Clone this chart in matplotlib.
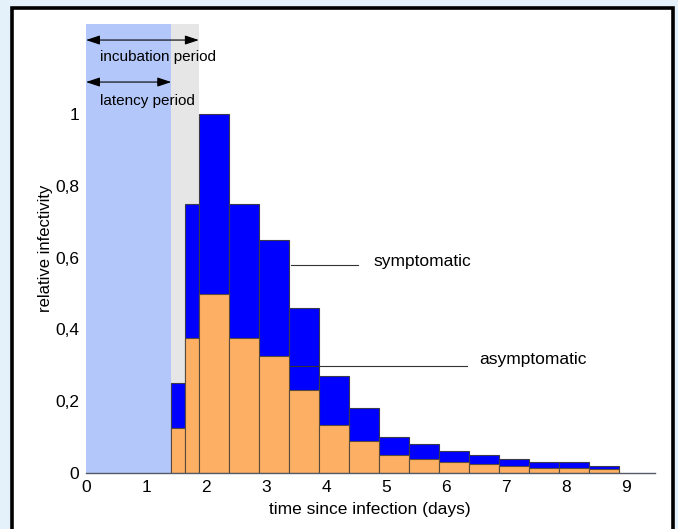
import matplotlib
matplotlib.use("Agg")
import matplotlib.pyplot as plt
from matplotlib.patches import Rectangle

plt.rcParams['font.family'] = ['Liberation Sans', 'DejaVu Sans']

# ---- data ----
bin_edges = [1.42, 1.65, 1.88, 2.38, 2.88, 3.38, 3.88, 4.38, 4.88,
             5.38, 5.88, 6.38, 6.88, 7.38, 7.88, 8.38, 8.88]
symptomatic = [0.25, 0.75, 1.0, 0.75, 0.65, 0.46, 0.27, 0.18,
               0.10, 0.08, 0.06, 0.05, 0.04, 0.03, 0.03, 0.02]
asymptomatic = [0.125, 0.375, 0.5, 0.375, 0.325, 0.23, 0.135, 0.09,
                0.05, 0.04, 0.03, 0.025, 0.02, 0.015, 0.015, 0.01]
latency_end = 1.42
incubation_end = 1.88
x_ticks = [0, 1, 2, 3, 4, 5, 6, 7, 8, 9]
y_ticks = [0, 0.2, 0.4, 0.6, 0.8, 1.0]
y_tick_labels = ['0', '0,2', '0,4', '0,6', '0,8', '1']

lefts = bin_edges[:-1]
widths = [b - a for a, b in zip(bin_edges[:-1], bin_edges[1:])]

fig = plt.figure(figsize=(6.78, 5.29), dpi=100, facecolor='#e4f0fa')
panel = Rectangle((12 / 678, -0.02), (673 - 12) / 678, 1.02 - 7.5 / 529,
                  transform=fig.transFigure, facecolor='white',
                  edgecolor='black', lw=2.6, zorder=-5)
fig.patches.append(panel)

ax = fig.add_axes([86 / 678, 1 - 473 / 529, (655 - 86) / 678, 448.75 / 529])
ax.set_zorder(1)
ax.set_facecolor('none')
ax.set_xlim(0, 9.48)
ax.set_ylim(0, 1.25)

ax.axvspan(0, latency_end, color='#b3c7fa', lw=0, zorder=0)
ax.axvspan(latency_end, incubation_end, color='#e6e6e6', lw=0, zorder=0)

ax.bar(lefts, symptomatic, width=widths, align='edge', color='#0000ff',
       edgecolor='#3a3a4a', lw=0.8, zorder=2)
ax.bar(lefts, asymptomatic, width=widths, align='edge', color='#fdb064',
       edgecolor='#5a4a3a', lw=0.8, zorder=3)

# annotation lines and labels
ax.plot([3.41, 4.53], [0.578, 0.578], color='#333333', lw=0.8, zorder=4)
ax.text(4.783, 0.588, 'symptomatic', fontsize=12.5, va='center', ha='left')
ax.plot([3.40, 6.35], [0.298, 0.298], color='#333333', lw=0.8, zorder=4)
ax.text(6.55, 0.315, 'asymptomatic', fontsize=12.5, va='center', ha='left')

# period arrows
ax.annotate('', xy=(incubation_end, 1.206), xytext=(0.0, 1.206),
            arrowprops=dict(arrowstyle='<|-|>,head_length=0.6,head_width=0.2',
                            color='black', lw=0.8,
                            mutation_scale=14, shrinkA=0, shrinkB=0))
ax.text(0.233, 1.16, 'incubation period', fontsize=11, va='center', ha='left')
ax.annotate('', xy=(latency_end, 1.089), xytext=(0.0, 1.089),
            arrowprops=dict(arrowstyle='<|-|>,head_length=0.6,head_width=0.2',
                            color='black', lw=0.8,
                            mutation_scale=14, shrinkA=0, shrinkB=0))
ax.text(0.233, 1.035, 'latency period', fontsize=11, va='center', ha='left')

for s in ['top', 'right', 'left']:
    ax.spines[s].set_visible(False)
ax.spines['bottom'].set_color('#555a66')
ax.spines['bottom'].set_linewidth(1.0)
ax.spines['bottom'].set_zorder(5)

ax.set_xticks(x_ticks)
ax.set_yticks(y_ticks)
ax.set_yticklabels(y_tick_labels)
ax.tick_params(axis='both', length=0, labelsize=12.5)
ax.tick_params(axis='x', pad=5)
ax.tick_params(axis='y', pad=5)

ax.set_xlabel('time since infection (days)', fontsize=12.5)
ax.xaxis.set_label_coords(0.499, -0.064)
ax.set_ylabel('relative infectivity', fontsize=12)
ax.yaxis.set_label_coords(-0.058, 0.5)

fig.savefig('out.png', dpi=100, facecolor=fig.get_facecolor())
